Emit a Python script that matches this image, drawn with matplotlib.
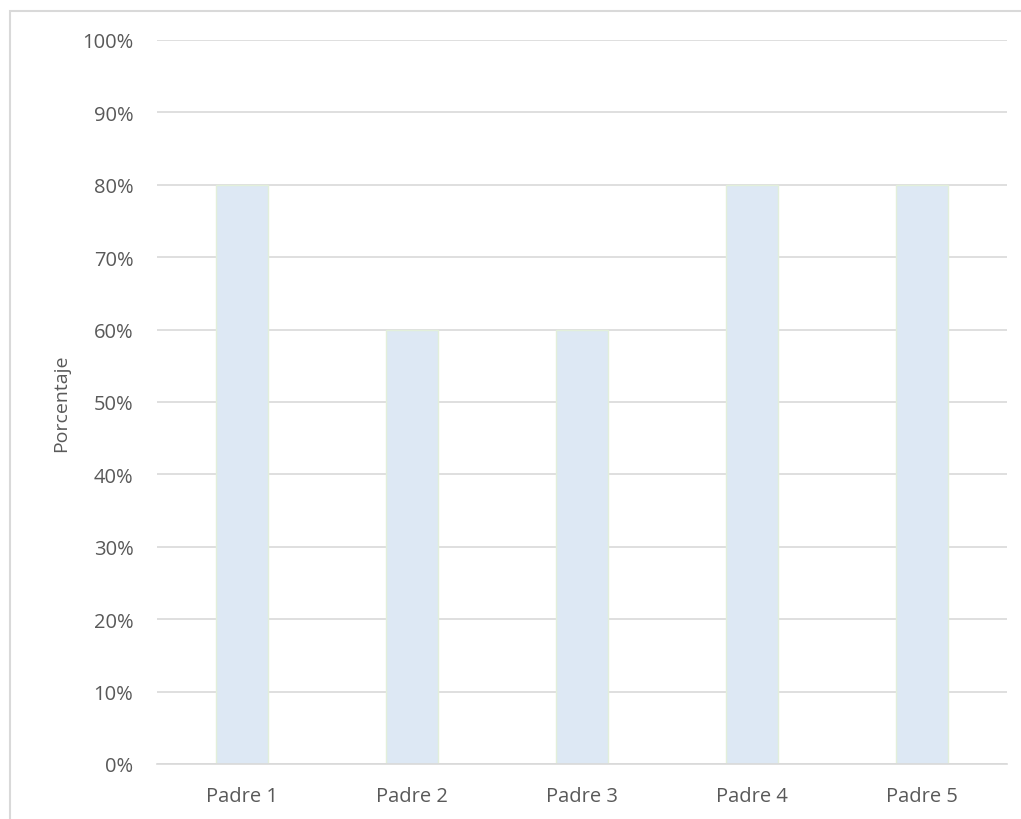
import matplotlib
matplotlib.use("Agg")
import matplotlib.pyplot as plt
from matplotlib.patches import Rectangle
from matplotlib.ticker import PercentFormatter

categories = ["Padre 1", "Padre 2", "Padre 3", "Padre 4", "Padre 5"]
porcentajes = [80, 60, 60, 80, 80]
y_ticks = [0, 10, 20, 30, 40, 50, 60, 70, 80, 90, 100]

plt.rcParams["font.family"] = ["Open Sans", "DejaVu Sans"]

W, H = 1021, 820
fig = plt.figure(figsize=(W / 100, H / 100), dpi=100)

# outer chart frame (left and top edges visible)
fig.patches.append(Rectangle((10 / W, -0.05), 1.2, (H - 12) / H + 0.05,
                             transform=fig.transFigure, fill=False,
                             edgecolor="#d9d9d9", linewidth=1.5, zorder=0))

ax = fig.add_axes([157 / W, (H - 765) / H, (1007 - 157) / W, (765 - 41) / H])
x = range(len(categories))
ax.bar(x, porcentajes, width=0.31, color="#dde8f4", edgecolor="#e2efda",
       linewidth=1.0, zorder=2)

ax.set_xlim(-0.5, len(categories) - 0.5)
ax.set_ylim(0, 100)
ax.set_yticks(y_ticks)
ax.yaxis.set_major_formatter(PercentFormatter(decimals=0))
ax.set_xticks(list(x))
ax.set_xticklabels(categories)

ax.grid(axis="y", color="#d9d9d9", linewidth=1.2, zorder=0)
ax.set_axisbelow(True)
for s in ["top", "right", "left"]:
    ax.spines[s].set_visible(False)
ax.spines["bottom"].set_color("#d9d9d9")
ax.spines["bottom"].set_linewidth(1.2)
ax.tick_params(axis="both", length=0, labelsize=14.5, labelcolor="#595959")
ax.tick_params(axis="y", pad=17)
ax.tick_params(axis="x", pad=16)

ax.set_ylabel("Porcentaje", fontsize=14, color="#595959", labelpad=9)

fig.savefig("out.png", dpi=100, facecolor="white")
